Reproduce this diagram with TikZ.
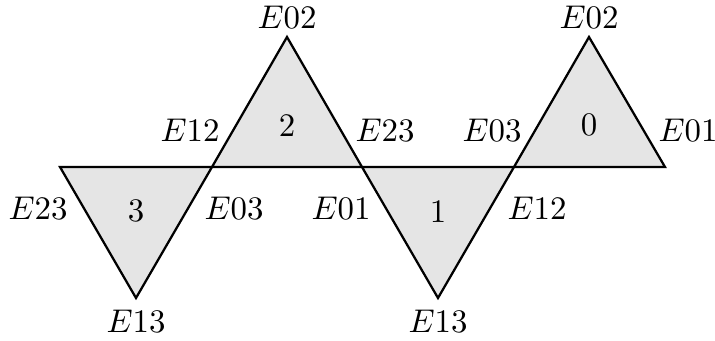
\documentclass[tikz,border=0pt]{standalone}
\begin{document}
\begin{tikzpicture}[x=0.3333pt,y=-0.3333pt,
  face/.style={draw=black,fill=black!10,line width=0.75pt,line join=miter},
  lbl/.style={inner sep=0pt,anchor=center,font=\fontsize{10.6}{12}\selectfont}]
\useasboundingbox (0,0) rectangle (715,341);
% vertices
\coordinate (a) at (60,167);
\coordinate (b) at (212,167);
\coordinate (c) at (362,167);
\coordinate (d) at (514,167);
\coordinate (e) at (665,167);
\coordinate (t2) at (287,37);
\coordinate (t0) at (589,37);
\coordinate (b3) at (136,298);
\coordinate (b1) at (438,298);
% faces
\draw[face] (a) -- (b) -- (b3) -- cycle;
\draw[face] (b) -- (c) -- (t2) -- cycle;
\draw[face] (c) -- (d) -- (b1) -- cycle;
\draw[face] (d) -- (e) -- (t0) -- cycle;
% face numbers
\node[lbl] (n3) at (136,211) {$3$};
\node[lbl] (n2) at (287,126) {$2$};
\node[lbl] (n1) at (438,212) {$1$};
\node[lbl] (n0) at (589,125) {$0$};
% edge labels
\node[lbl] (l1) at (287,17) {$E02$};
\node[lbl] (l2) at (190,130) {$E12$};
\node[lbl] (l3) at (385,130) {$E23$};
\node[lbl] (l4) at (492,130) {$E03$};
\node[lbl] (l5) at (688,130) {$E01$};
\node[lbl] (l6) at (589,17) {$E02$};
\node[lbl] (l7) at (38,208) {$E23$};
\node[lbl] (l8) at (234,208) {$E03$};
\node[lbl] (l9) at (341,208) {$E01$};
\node[lbl] (l10) at (537,208) {$E12$};
\node[lbl] (l11) at (136,321) {$E13$};
\node[lbl] (l12) at (438,321) {$E13$};
\end{tikzpicture}
\end{document}
